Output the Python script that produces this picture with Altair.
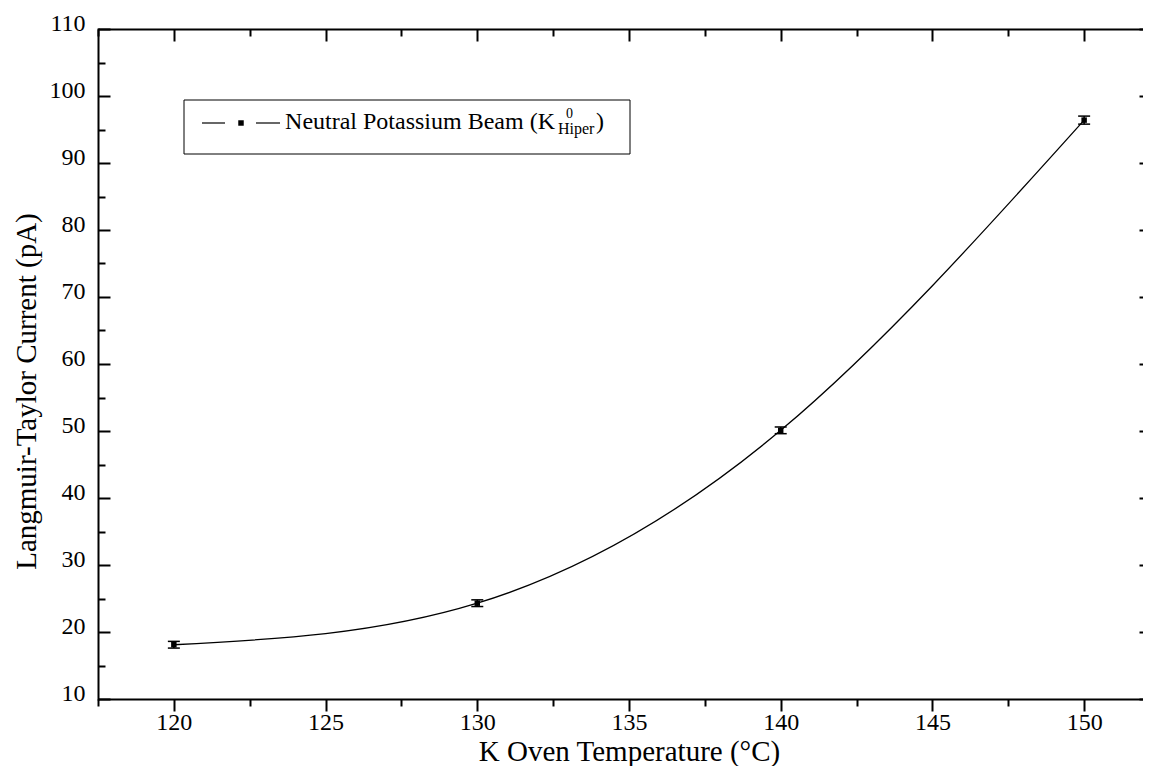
import altair as alt
import pandas as pd

# ---- data ----
temps = [120, 130, 140, 150]
current = [18.1, 24.3, 50.1, 96.4]
errors = [0.5, 0.5, 0.5, 0.6]

x_labels = [120, 125, 130, 135, 140, 145, 150]
x_ticks = [117.5, 120, 122.5, 125, 127.5, 130, 132.5, 135, 137.5, 140,
           142.5, 145, 147.5, 150]
y_labels = [10, 20, 30, 40, 50, 60, 70, 80, 90, 100, 110]
y_ticks = [10, 15, 20, 25, 30, 35, 40, 45, 50, 55, 60, 65, 70, 75, 80,
           85, 90, 95, 100, 105, 110]

legend_label = "Neutral Potassium Beam (K"
legend_sup = "0"
legend_sub = "Hiper"
legend_close = ")"

df = pd.DataFrame({
    "T": temps,
    "I": current,
    "lo": [c - e for c, e in zip(current, errors)],
    "hi": [c + e for c, e in zip(current, errors)],
})
one = pd.DataFrame({"k": [0]})

# visible part of the plot area (the frame's right edge lies beyond the
# picture in the reference)
W, H = 1045, 670
FONT = "Liberation Serif"
xs = alt.Scale(domain=[117.5, 151.94], nice=False, zero=False)
ys = alt.Scale(domain=[10, 110], nice=False, zero=False)

ax_main = alt.Axis(
    orient="bottom", values=x_labels, ticks=False, tickSize=0, labelPadding=11,
    domain=True, domainWidth=2, domainColor="black", domainCap="butt",
    labelFont=FONT, labelFontSize=24, labelColor="black", grid=False,
    title="K Oven Temperature (°C)", titleFont=FONT, titleFontSize=29,
    titleFontWeight="normal", titleColor="black", titleBaseline="alphabetic",
    titleAlign="center", titleX=531, titleY=61,
)
ay_main = alt.Axis(
    orient="left", values=y_labels, ticks=False, tickSize=0, labelPadding=13,
    domain=True, domainWidth=2, domainColor="black", domainCap="square",
    labelFont=FONT, labelFontSize=24, labelColor="black", grid=False,
    labelOffset=-6,
    title="Langmuir-Taylor Current (pA)", titleFont=FONT, titleFontSize=29,
    titleFontWeight="normal", titleColor="black", titleAngle=-90,
    titleAlign="center", titleBaseline="alphabetic", titleX=-63, titleY=362,
)


def tick_axis(orient, values, test, big, small, offset, domain):
    return alt.Axis(
        orient=orient, values=values, labels=False, title=None, grid=False,
        domain=domain, domainWidth=2, domainColor="black", domainCap="butt",
        ticks=True, tickColor="black", tickWidth=2,
        tickSize={"condition": {"test": test, "value": big}, "value": small},
        offset=offset,
    )


ax_bottom_ticks = tick_axis("bottom", x_ticks, "datum.value % 5 === 0", 12, 7, 0, False)
ax_top_ticks = tick_axis("bottom", x_ticks, "datum.value % 5 === 0", 12, 7, -H, True)
ay_left_ticks = tick_axis("right", y_ticks, "datum.value % 10 === 0", 12, 7, -W, False)
# only the inner ends of the right-hand major ticks show in the reference
ay_right_ticks = tick_axis("left", y_labels, "datum.value % 10 === 0", 4, 0, -W, False)

base = alt.Chart(df)

curve = base.mark_line(interpolate="natural", color="black", strokeWidth=1.3).encode(
    x=alt.X("T:Q", scale=xs, axis=ax_main),
    y=alt.Y("I:Q", scale=ys, axis=ay_main),
)
bars = base.mark_rule(color="black", strokeWidth=1.5).encode(
    x=alt.X("T:Q", scale=xs, axis=ax_bottom_ticks),
    y=alt.Y("lo:Q", scale=ys, axis=ay_left_ticks),
    y2="hi:Q",
)
points = base.mark_square(size=30, color="black", opacity=1).encode(
    x=alt.X("T:Q", scale=xs, axis=ax_top_ticks),
    y=alt.Y("I:Q", scale=ys, axis=ay_right_ticks),
)
cap_lo = base.mark_tick(orient="horizontal", size=12, thickness=1.5, color="black", opacity=1).encode(
    x=alt.X("T:Q", scale=xs, axis=None),
    y=alt.Y("lo:Q", scale=ys, axis=None),
)
cap_hi = base.mark_tick(orient="horizontal", size=12, thickness=1.5, color="black", opacity=1).encode(
    x=alt.X("T:Q", scale=xs, axis=None),
    y=alt.Y("hi:Q", scale=ys, axis=None),
)

# ---- legend (decoration) ----
leg = alt.Chart(one)
leg_box = leg.mark_rect(fill="white", stroke="black", strokeWidth=1).encode(
    x=alt.value(86), x2=alt.value(532), y=alt.value(71), y2=alt.value(125)
)
leg_line1 = leg.mark_rule(color="black", strokeWidth=1.2).encode(
    x=alt.value(104), x2=alt.value(127), y=alt.value(94)
)
leg_line2 = leg.mark_rule(color="black", strokeWidth=1.2).encode(
    x=alt.value(158), x2=alt.value(182), y=alt.value(94)
)
leg_sq = leg.mark_square(size=30, color="black", opacity=1).encode(
    x=alt.value(143), y=alt.value(94)
)
leg_text = leg.mark_text(align="right", baseline="alphabetic", font=FONT,
                         fontSize=24, color="black").encode(
    x=alt.value(457), y=alt.value(100), text=alt.value(legend_label)
)
leg_sup = leg.mark_text(align="left", baseline="alphabetic", font=FONT,
                        fontSize=14, color="black").encode(
    x=alt.value(468), y=alt.value(89), text=alt.value(legend_sup)
)
leg_sub = leg.mark_text(align="left", baseline="alphabetic", font=FONT,
                        fontSize=16, color="black").encode(
    x=alt.value(460), y=alt.value(105), text=alt.value(legend_sub)
)
leg_close = leg.mark_text(align="left", baseline="alphabetic", font=FONT,
                          fontSize=24, color="black").encode(
    x=alt.value(498), y=alt.value(100), text=alt.value(legend_close)
)

chart = alt.layer(
    curve, bars, points, cap_lo, cap_hi,
    leg_box, leg_line1, leg_line2, leg_sq, leg_text, leg_sup, leg_sub, leg_close,
).resolve_axis(
    x="independent", y="independent"
).properties(
    width=W, height=H,
    padding={"left": 90, "top": 21, "right": 0, "bottom": 67},
    autosize=alt.AutoSizeParams(type="none"),
    background="white",
).configure_view(stroke=None)

chart.save("out.html", embed_options={"renderer": "svg", "actions": False})
